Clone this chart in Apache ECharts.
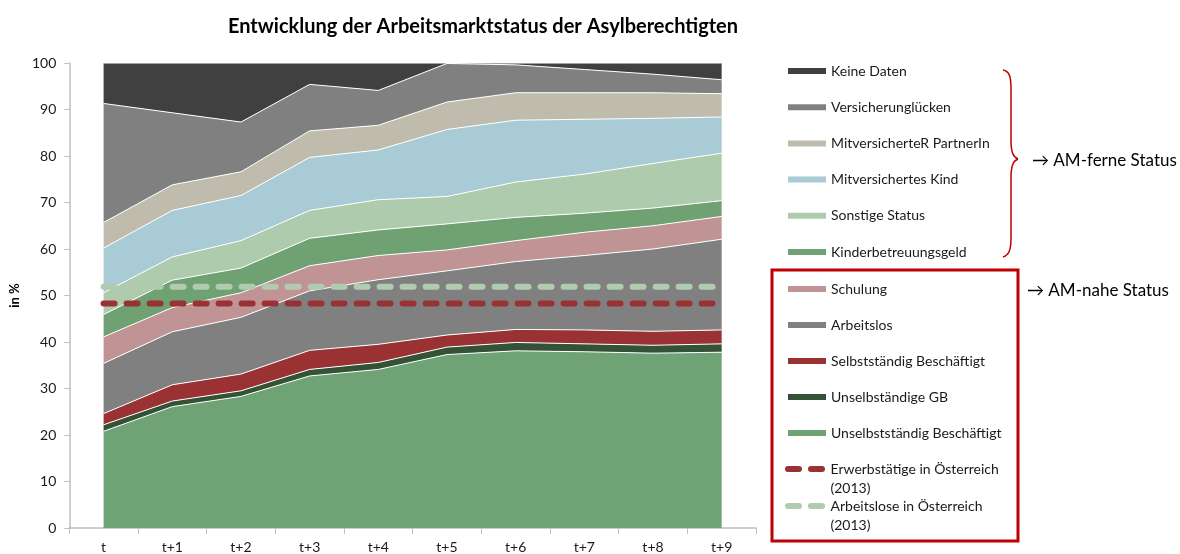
<!DOCTYPE html>
<html>
<head>
<meta charset="utf-8">
<title>Arbeitsmarktstatus der Asylberechtigten</title>
<script src="https://cdn.jsdelivr.net/npm/echarts@6/dist/echarts.min.js"></script>
<style>
  html, body { margin: 0; padding: 0; background: #fff; }
  #Chart { width: 1180px; height: 554px; }
</style>
</head>
<body>
<div id="Chart"></div>
<script>
  // Kategorien (Jahre nach Statuszuerkennung)
  var categories = ['t', 't+1', 't+2', 't+3', 't+4', 't+5', 't+6', 't+7', 't+8', 't+9']

  // Anteile in %, von unten nach oben gestapelt
  var unselbstBesch = [20.8, 26.1, 28.3, 32.7, 34.1, 37.3, 38.1, 37.9, 37.6, 37.8]
  var unselbstGB    = [1.4, 1.2, 1.2, 1.4, 1.5, 1.6, 1.8, 1.7, 1.7, 1.8]
  var selbststBesch = [2.4, 3.5, 3.6, 4.1, 3.9, 2.6, 2.8, 3.0, 3.0, 3.0]
  var arbeitslos    = [10.8, 11.4, 12.2, 12.8, 13.9, 13.8, 14.6, 16.0, 17.7, 19.5]
  var schulung      = [5.7, 5.2, 5.3, 5.4, 5.2, 4.5, 4.5, 5.0, 5.0, 4.9]
  var kinderbetr    = [4.8, 5.9, 5.3, 5.9, 5.5, 5.6, 5.0, 4.1, 3.8, 3.4]
  var sonstige      = [4.7, 5.0, 5.9, 6.0, 6.5, 5.9, 7.6, 8.4, 9.6, 10.2]
  var mitversKind   = [9.6, 10.0, 9.7, 11.4, 10.7, 14.4, 13.3, 11.8, 9.7, 7.8]
  var mitversPartner = [5.5, 5.5, 5.1, 5.7, 5.3, 5.9, 5.9, 5.7, 5.5, 5.0]
  var versLuecken   = [25.6, 15.5, 10.7, 10.0, 7.5, 8.3, 6.0, 5.0, 4.0, 3.0]
  var keineDaten    = [8.7, 10.7, 12.7, 4.6, 5.9, 0.1, 0.4, 1.4, 2.4, 3.6]

  // Vergleichswerte Österreich 2013
  var erwerbstaetigeAT = 48.3
  var arbeitsloseAT = 51.9

  var yTicks = [0, 100, 10]

  var font = 'Lato, "Open Sans", sans-serif'

  function area(name, data, color) {
    return {
      name: name,
      type: 'line',
      stack: 'status',
      data: data,
      symbol: 'none',
      color: color,
      lineStyle: { color: '#ffffff', width: 1 },
      areaStyle: { color: color, opacity: 1 },
      emphasis: { disabled: true }
    }
  }

  function refLine(name, value, color) {
    return {
      name: name,
      type: 'line',
      data: categories.map(function () { return value }),
      symbol: 'none',
      color: color,
      z: 5,
      lineStyle: { color: color, width: 6, type: [11, 12], cap: 'round' },
      emphasis: { disabled: true }
    }
  }

  function curve(x1, y1, cx1, cy1, cx2, cy2, x2, y2) {
    return {
      type: 'bezierCurve',
      shape: { x1: x1, y1: y1, cpx1: cx1, cpy1: cy1, cpx2: cx2, cpy2: cy2, x2: x2, y2: y2 },
      style: { fill: 'none', stroke: '#c00000', lineWidth: 1.5 }
    }
  }

  function seg(x1, y1, x2, y2) {
    return {
      type: 'line',
      shape: { x1: x1, y1: y1, x2: x2, y2: y2 },
      style: { stroke: '#c00000', lineWidth: 1.5 }
    }
  }

  // zwei abgerundete Striche als Legendensymbol
  var dashIcon = 'path://M3,0 L14,0 A3,3 0 0 1 14,6 L3,6 A3,3 0 0 1 3,0 Z ' +
    'M26,0 L37,0 A3,3 0 0 1 37,6 L26,6 A3,3 0 0 1 26,0 Z'

  var legendBase = {
    orient: 'vertical',
    left: 788,
    padding: 0,
    itemWidth: 38,
    itemHeight: 6,
    selectedMode: false,
    textStyle: { fontFamily: font, fontSize: 14, color: '#1a1a1a', lineHeight: 16 }
  }

  var Chart = echarts.init(document.getElementById('Chart'))

  Chart.setOption({
    animation: false,
    title: {
      text: 'Entwicklung der Arbeitsmarktstatus der Asylberechtigten',
      left: 478,
      top: 12,
      textAlign: 'center',
      textStyle: { fontFamily: font, fontSize: 20, fontWeight: 'bold', color: '#000' }
    },
    grid: { left: 69, right: 424, top: 63, bottom: 25 },
    xAxis: {
      type: 'category',
      data: categories,
      boundaryGap: true,
      axisLine: { lineStyle: { color: '#bfbfbf', width: 1.5 } },
      axisTick: { show: true, length: 6, lineStyle: { color: '#bfbfbf' } },
      axisLabel: { fontFamily: font, fontSize: 14, color: '#1a1a1a', margin: 12 }
    },
    yAxis: {
      type: 'value',
      min: yTicks[0],
      max: yTicks[1],
      interval: yTicks[2],
      name: 'in %',
      nameLocation: 'middle',
      nameGap: 46,
      nameTextStyle: { fontFamily: font, fontSize: 13, fontWeight: 'bold', color: '#000' },
      axisLine: { show: true, lineStyle: { color: '#bfbfbf', width: 1.5 } },
      axisTick: { show: true, length: 5, lineStyle: { color: '#bfbfbf' } },
      splitLine: { show: false },
      axisLabel: { fontFamily: font, fontSize: 14, color: '#1a1a1a', margin: 13 }
    },
    legend: [
      Object.assign({}, legendBase, {
        top: 63, itemGap: 20.2, icon: 'rect',
        data: ['Keine Daten', 'Versicherunglücken', 'MitversicherteR PartnerIn',
          'Mitversichertes Kind', 'Sonstige Status', 'Kinderbetreuungsgeld']
      }),
      Object.assign({}, legendBase, {
        top: 281, itemGap: 20, icon: 'rect',
        data: ['Schulung', 'Arbeitslos', 'Selbstständig Beschäftigt',
          'Unselbständige GB', 'Unselbstständig Beschäftigt']
      }),
      Object.assign({}, legendBase, {
        top: 440.5, left: 785, itemWidth: 41, icon: dashIcon,
        data: ['Erwerbstätige in Österreich (2013)'],
        formatter: function () { return ' \nErwerbstätige in Österreich\n(2013)' },
        textStyle: { fontFamily: font, fontSize: 14, color: '#1a1a1a', lineHeight: 19 }
      }),
      Object.assign({}, legendBase, {
        top: 477.5, left: 785, itemWidth: 41, icon: dashIcon,
        data: ['Arbeitslose in Österreich (2013)'],
        formatter: function () { return ' \nArbeitslose in Österreich\n(2013)' },
        textStyle: { fontFamily: font, fontSize: 14, color: '#1a1a1a', lineHeight: 19 }
      })
    ],
    graphic: [
      {
        type: 'rect',
        shape: { x: 772, y: 270, width: 246, height: 271 },
        style: { fill: 'none', stroke: '#c00000', lineWidth: 3 }
      },
      // geschweifte Klammer für AM-ferne Status
      curve(1003, 70, 1009, 71, 1011, 76, 1011, 88),
      seg(1011, 88, 1011, 140),
      curve(1011, 140, 1011, 152, 1013, 157, 1018, 159),
      curve(1018, 159, 1013, 161, 1011, 166, 1011, 178),
      seg(1011, 178, 1011, 238),
      curve(1011, 238, 1011, 250, 1009, 255, 1003, 257),
      {
        type: 'text',
        left: 1032,
        top: 152,
        style: { text: '\u2192 AM-ferne Status', font: '17px ' + font, fill: '#000' }
      },
      {
        type: 'text',
        left: 1027,
        top: 282,
        style: { text: '\u2192 AM-nahe Status', font: '17px ' + font, fill: '#000' }
      }
    ],
    series: [
      area('Unselbstständig Beschäftigt', unselbstBesch, '#6fa275'),
      area('Unselbständige GB', unselbstGB, '#335236'),
      area('Selbstständig Beschäftigt', selbststBesch, '#9a3233'),
      area('Arbeitslos', arbeitslos, '#808080'),
      area('Schulung', schulung, '#c09494'),
      area('Kinderbetreuungsgeld', kinderbetr, '#6fa173'),
      area('Sonstige Status', sonstige, '#afcbae'),
      area('Mitversichertes Kind', mitversKind, '#a8cbd5'),
      area('MitversicherteR PartnerIn', mitversPartner, '#bfbcad'),
      area('Versicherunglücken', versLuecken, '#808080'),
      area('Keine Daten', keineDaten, '#404040'),
      refLine('Arbeitslose in Österreich (2013)', arbeitsloseAT, '#b0cbb0'),
      refLine('Erwerbstätige in Österreich (2013)', erwerbstaetigeAT, '#9a3233')
    ]
  })
</script>
</body>
</html>
